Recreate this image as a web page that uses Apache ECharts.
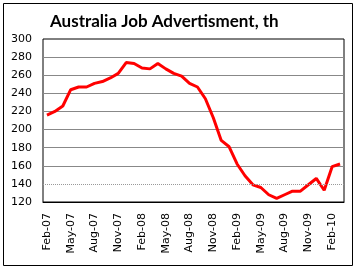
<!DOCTYPE html>
<html><head><meta charset="utf-8">
<script src="https://cdn.jsdelivr.net/npm/echarts@6/dist/echarts.min.js"></script>
<style>html,body{margin:0;padding:0;background:#fff}#c{width:356px;height:268px}</style>
</head><body><div id="c"></div>
<script>
const months = ['Feb-07','Mar-07','Apr-07','May-07','Jun-07','Jul-07','Aug-07','Sep-07','Oct-07','Nov-07','Dec-07','Jan-08',
'Feb-08','Mar-08','Apr-08','May-08','Jun-08','Jul-08','Aug-08','Sep-08','Oct-08','Nov-08','Dec-08','Jan-09',
'Feb-09','Mar-09','Apr-09','May-09','Jun-09','Jul-09','Aug-09','Sep-09','Oct-09','Nov-09','Dec-09','Jan-10',
'Feb-10','Mar-10'];
const jobAds = [216,220,226,244,247,247,251,253,257,262,274,273,268,267,273,267,262,259,251,247,234,213,188,181,
162,149,139,136,128,124,128,132,132,139,146,133,159,162];
const yTicks = {min:120, max:300, step:20};
const titleText = 'Australia Job Advertisment, th';

const chart = echarts.init(document.getElementById('c'), null, {renderer:'canvas'});
chart.setOption({
  animation:false,
  title:{text:titleText, left:45, top:8, textStyle:{fontFamily:'Lato', fontWeight:'bold', fontSize:17, color:'#000'}},
  graphic:[{type:'rect', shape:{x:3.5,y:3.5,width:349,height:262}, style:{fill:'none', stroke:'#000', lineWidth:1}}],
  grid:{left:43, right:12, top:39, bottom:66, show:true, borderColor:'#000', borderWidth:1, backgroundColor:'transparent'},
  xAxis:{type:'category', data:months, boundaryGap:true,
    axisLine:{show:true, lineStyle:{color:'#000'}}, axisTick:{show:false},
    axisLabel:{interval:2, rotate:90, margin:11, fontFamily:'DejaVu Sans', fontSize:11, color:'#000'}},
  yAxis:{type:'value', min:yTicks.min, max:yTicks.max, interval:yTicks.step,
    axisLine:{show:false}, axisTick:{show:false},
    axisLabel:{margin:11, fontFamily:'DejaVu Sans', fontSize:11, color:'#000'},
    splitLine:{show:true, lineStyle:{color:['transparent','transparent','#888','#888','#888','#888','#888','#888','#888','transparent'], width:1}}},
  series:[{type:'line', data:jobAds, symbol:'none', smooth:false,
    lineStyle:{color:'#ff0000', width:3}, itemStyle:{color:'#ff0000'},
    markLine:{silent:true, symbol:'none', label:{show:false},
      lineStyle:{color:'#999', type:'dotted', width:1}, data:[{yAxis:140}]}}]
});
</script></body></html>
